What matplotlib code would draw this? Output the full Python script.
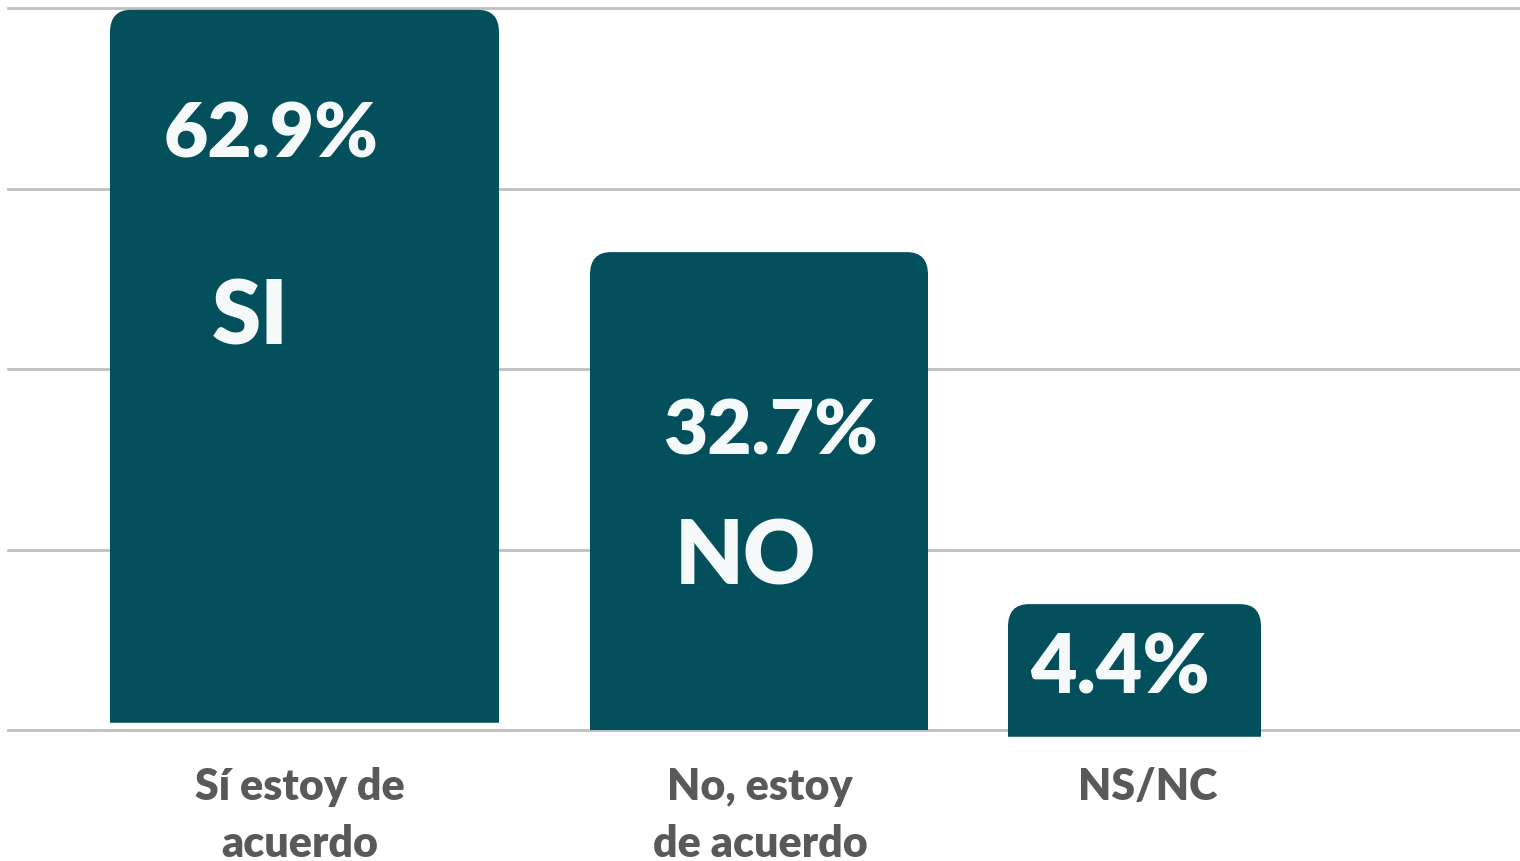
import matplotlib

matplotlib.use("Agg")
import matplotlib.pyplot as plt  # noqa: E402
from matplotlib.path import Path  # noqa: E402
from matplotlib.patches import PathPatch  # noqa: E402

# data
categories = ["Sí estoy de\nacuerdo", "No, estoy\nde acuerdo", "NS/NC"]
values = [62.9, 32.7, 4.4]            # printed percentages
short_labels = ["SI", "NO", ""]
bar_heights = [79.0, 52.95, 14.7]     # drawn heights (axis units, 20 per gridline)
bar_bottoms = [0.8, 0.0, -0.75]

# layout (pixel-like x units)
centers = [304.5, 759.0, 1134.5]
widths = [389, 338, 253]
BAR = "#034f5c"
TXT = "#f5f9f9"
GRID = "#bfbfbf"
LABEL = "#595959"

plt.rcParams["font.family"] = ["Lato", "DejaVu Sans"]

fig = plt.figure(figsize=(15.2, 8.61), dpi=100)
ax = fig.add_axes([8 / 1520, 1 - 730 / 861, 1 - 8 / 1520, 722 / 861])
ax.set_xlim(8, 1520)
ax.set_ylim(0, 80)
for s in ax.spines.values():
    s.set_visible(False)
ax.set_xticks([])
ax.set_yticks([])
for g in range(0, 81, 20):
    ax.axhline(g, color=GRID, lw=2, zorder=1, clip_on=False)

bars = ax.bar(centers, bar_heights, width=widths, bottom=bar_bottoms, color=BAR)
rx, ry = 21, 2.5
for rect in bars:
    x0, y0 = rect.get_x(), rect.get_y()
    x1, y1 = x0 + rect.get_width(), y0 + rect.get_height()
    verts = [(x0, y0), (x0, y1 - ry), (x0, y1), (x0 + rx, y1),
             (x1 - rx, y1), (x1, y1), (x1, y1 - ry), (x1, y0), (x0, y0)]
    codes = [Path.MOVETO, Path.LINETO, Path.CURVE3, Path.CURVE3,
             Path.LINETO, Path.CURVE3, Path.CURVE3, Path.LINETO, Path.CLOSEPOLY]
    ax.add_patch(PathPatch(Path(verts, codes), facecolor=BAR, edgecolor="none",
                           zorder=3, clip_on=False))
    rect.set_visible(False)

# value and short labels inside the bars
pct_pos = [(271, 65.9), (771, 33.0), (1120, 6.6)]
pct_size = [55, 55, 58]
short_pos = [(250, 45.6), (745, 19.0), None]
for v, s, pp, fs, sp in zip(values, short_labels, pct_pos, pct_size, short_pos):
    ax.text(pp[0], pp[1], f"{v}%", color=TXT, fontsize=fs, fontweight="heavy",
            ha="center", va="center", zorder=4)
    if sp:
        ax.text(sp[0], sp[1], s, color=TXT, fontsize=64, fontweight="heavy",
                ha="center", va="center", zorder=4)

# category labels under the axis
cat_x = [300, 760, 1148]
for cx, cat in zip(cat_x, categories):
    ax.text(cx, -4.1, cat, color=LABEL, fontsize=31, fontweight="heavy",
            ha="center", va="top", linespacing=1.5, clip_on=False)

fig.savefig("out.png", dpi=100)
